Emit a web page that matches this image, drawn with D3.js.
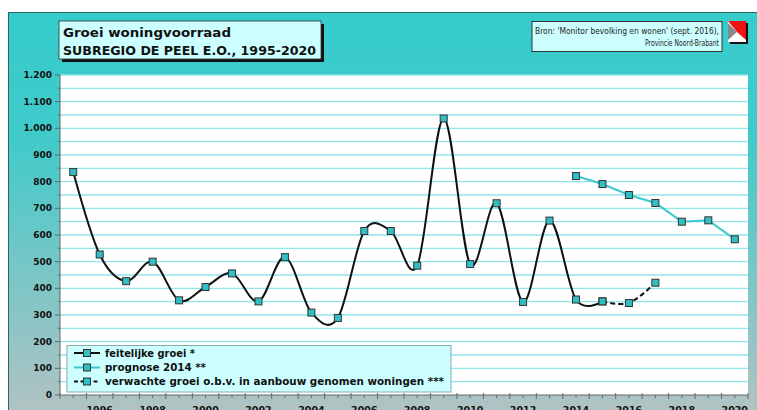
<!DOCTYPE html>
<html><head><meta charset="utf-8">
<script src="https://cdn.jsdelivr.net/npm/d3@7"></script>
<style>body{margin:0;background:#fff}svg{display:block}text{font-family:"DejaVu Sans","Lato",sans-serif}</style>
</head><body>
<svg id="c" width="757" height="410"></svg>
<script>
const years = d3.range(1995, 2021);
const feitelijkeYears = [1995,1996,1997,1998,1999,2000,2001,2002,2003,2004,2005,2006,2007,2008,2009,2010,2011,2012,2013,2014,2015];
const feitelijkeValues = [836,527,427,500,355,405,456,351,517,309,289,615,615,485,1037,491,719,349,654,358,351];
const prognoseYears = [2014,2015,2016,2017,2018,2019,2020];
const prognoseValues = [821,791,750,720,650,655,584];
const verwachtYears = [2015,2016,2017];
const verwachtValues = [351,345,421];
const yTicks = d3.range(0, 1201, 100);
const xLabelYears = d3.range(1996, 2021, 2);
const legendLabels = ["feitelijke groei *", "prognose 2014 **", "verwachte groei o.b.v. in aanbouw genomen woningen ***"];

const svg = d3.select("#c");
const defs = svg.append("defs");
const g1 = defs.append("linearGradient").attr("id","bg").attr("x1",0).attr("y1",0).attr("x2",0).attr("y2",1);
g1.append("stop").attr("offset","0%").attr("stop-color","#36cccc");
g1.append("stop").attr("offset","30%").attr("stop-color","#40caca");
g1.append("stop").attr("offset","100%").attr("stop-color","#b6c2c2");

svg.append("rect").attr("x",8.5).attr("y",12.5).attr("width",760).attr("height",410)
  .attr("fill","url(#bg)").attr("stroke","#2a6666").attr("stroke-width",1);

const L = 60, R = 748, T = 75, B = 395;
const x = d3.scaleBand().domain(years).range([L, R]);
const cx = v => x(v) + x.bandwidth()/2;
const y = d3.scaleLinear().domain([0,1200]).range([B, T]);

svg.append("rect").attr("x",L).attr("y",T).attr("width",R-L).attr("height",B-T).attr("fill","#fff");

svg.append("g").selectAll("line").data(d3.range(50,1201,50)).join("line")
  .attr("x1",L).attr("x2",R).attr("y1",d=>y(d)).attr("y2",d=>y(d))
  .attr("stroke","#8fe6ec").attr("stroke-width",1.3);

const ya = svg.append("g");
ya.append("line").attr("x1",L).attr("x2",L).attr("y1",T).attr("y2",B).attr("stroke","#666").attr("stroke-width",1);
ya.selectAll("line.t").data(d3.range(0,1201,50)).join("line").attr("class","t")
  .attr("x1",d=>d%100===0?L-5:L-2).attr("x2",L).attr("y1",d=>y(d)).attr("y2",d=>y(d)).attr("stroke","#666");
const fmt = d3.formatLocale({decimal:",",thousands:".",grouping:[3],currency:["€",""]}).format(",");
ya.selectAll("text").data(yTicks).join("text")
  .attr("x",52).attr("y",d=>y(d)).attr("dy","0.35em").attr("text-anchor","end")
  .attr("font-size",9).attr("font-weight","bold").attr("fill","#111").text(d=>fmt(d));

const xa = svg.append("g");
xa.append("line").attr("x1",L).attr("x2",R).attr("y1",B).attr("y2",B).attr("stroke","#666");
xa.selectAll("line.b").data(years.concat([2021])).join("line").attr("class","b")
  .attr("x1",d=>d===2021?R:x(d)).attr("x2",d=>d===2021?R:x(d)).attr("y1",B-2).attr("y2",B+4).attr("stroke","#666");
xa.selectAll("line.c").data(years).join("line").attr("class","c")
  .attr("x1",d=>cx(d)).attr("x2",d=>cx(d)).attr("y1",B).attr("y2",B+3).attr("stroke","#666");
xa.selectAll("text").data(xLabelYears).join("text")
  .attr("x",d=>cx(d)).attr("y",413).attr("text-anchor","middle")
  .attr("font-size",9.5).attr("font-weight","bold").attr("fill","#111").text(d=>d);

const smooth = d3.line().x(d=>cx(d[0])).y(d=>y(d[1])).curve(d3.curveCardinal.tension(0));
const straight = d3.line().x(d=>cx(d[0])).y(d=>y(d[1]));
const fData = d3.zip(feitelijkeYears, feitelijkeValues);
const pData = d3.zip(prognoseYears, prognoseValues);
const vData = d3.zip(verwachtYears, verwachtValues);

svg.append("path").attr("d",straight(pData)).attr("fill","none").attr("stroke","#3cc8cc").attr("stroke-width",2);
svg.append("path").attr("d",smooth(fData)).attr("fill","none").attr("stroke","#111").attr("stroke-width",2);
svg.append("path").attr("d",smooth(vData)).attr("fill","none").attr("stroke","#111").attr("stroke-width",2).attr("stroke-dasharray","5,3");

const ms = 7;
function markers(data){
  svg.append("g").selectAll("rect").data(data).join("rect")
    .attr("x",d=>cx(d[0])-ms/2).attr("y",d=>y(d[1])-ms/2).attr("width",ms).attr("height",ms)
    .attr("fill","#2fbfc4").attr("stroke","#333").attr("stroke-width",1);
}
markers(fData); markers(pData); markers(vData);

svg.append("rect").attr("x",62).attr("y",24).attr("width",262).attr("height",38).attr("fill","#111");
svg.append("rect").attr("x",59).attr("y",21).attr("width",262).attr("height",38).attr("fill","#ccffff").attr("stroke","#333").attr("stroke-width",0.8);
svg.append("text").attr("x",63).attr("y",36.5).attr("font-size",12.5).attr("font-weight","bold").attr("fill","#111")
  .attr("textLength",168).attr("lengthAdjust","spacingAndGlyphs").text("Groei woningvoorraad");
svg.append("text").attr("x",63).attr("y",54.5).attr("font-size",12.5).attr("font-weight","bold").attr("fill","#111")
  .attr("textLength",253).attr("lengthAdjust","spacingAndGlyphs").text("SUBREGIO DE PEEL E.O., 1995-2020");

svg.append("rect").attr("x",532).attr("y",21.5).attr("width",190).attr("height",30).attr("fill","#ccffff").attr("stroke","#333").attr("stroke-width",1);
svg.append("text").attr("x",535).attr("y",33.5).attr("font-size",8).attr("fill","#222")
  .attr("textLength",184).attr("lengthAdjust","spacingAndGlyphs").text("Bron: 'Monitor bevolking en wonen' (sept. 2016),");
svg.append("text").attr("x",719).attr("y",46).attr("font-size",8).attr("fill","#222").attr("text-anchor","end")
  .attr("textLength",74).attr("lengthAdjust","spacingAndGlyphs").text("Provincie Noord-Brabant");

const lg = svg.append("g").attr("transform","translate(728,21)");
lg.append("rect").attr("x",2).attr("y",2).attr("width",18).attr("height",21).attr("fill","#111");
lg.append("rect").attr("x",0).attr("y",0).attr("width",18).attr("height",21).attr("fill","#fff");
lg.append("polygon").attr("points","0,0 18,0 18,19 9,11").attr("fill","#ee1111");
lg.append("polygon").attr("points","0,2 9,11 0,19").attr("fill","#888");

const lgd = svg.append("g");
lgd.append("rect").attr("x",67).attr("y",345.5).attr("width",384).attr("height",46.5).attr("fill","#ccffff").attr("stroke","#8aa").attr("stroke-width",1);
const rows = [353, 367.5, 381.5];
const lstyles = [{c:"#111",d:null},{c:"#3cc8cc",d:null},{c:"#111",d:"4,2.5"}];
const lens = [90, 101, 339];
legendLabels.forEach((t,i)=>{
  lgd.append("line").attr("x1",74).attr("x2",100).attr("y1",rows[i]).attr("y2",rows[i])
    .attr("stroke",lstyles[i].c).attr("stroke-width",2).attr("stroke-dasharray",lstyles[i].d);
  lgd.append("rect").attr("x",87-ms/2).attr("y",rows[i]-ms/2).attr("width",ms).attr("height",ms)
    .attr("fill","#2fbfc4").attr("stroke","#333");
  lgd.append("text").attr("x",105).attr("y",rows[i]).attr("dy","0.35em").attr("font-size",10.5).attr("font-weight","bold").attr("fill","#111")
    .attr("textLength",lens[i]).attr("lengthAdjust","spacingAndGlyphs").text(t);
});
</script>
</body></html>
